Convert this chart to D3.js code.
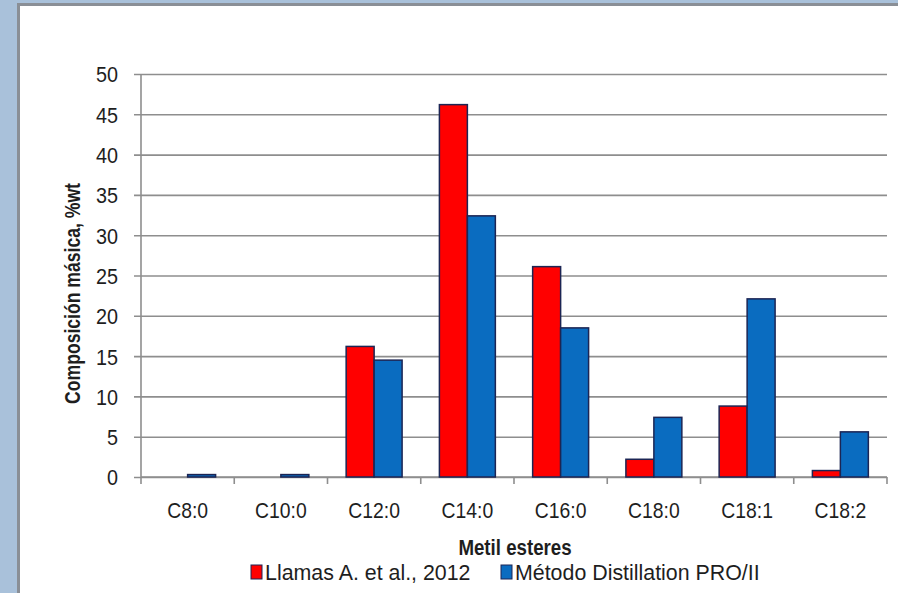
<!DOCTYPE html>
<html>
<head>
<meta charset="utf-8">
<script src="https://cdn.jsdelivr.net/npm/d3@7"></script>
<style>
  html, body { margin: 0; padding: 0; background: #a9c1da; }
  svg { display: block; font-family: "Liberation Sans", Arial, sans-serif; }
</style>
</head>
<body>
<svg id="chart" width="898" height="593"></svg>
<script>
// Fatty acid methyl ester composition (% wt)
const categories = ["C8:0", "C10:0", "C12:0", "C14:0", "C16:0", "C18:0", "C18:1", "C18:2"];
const llamas = [0, 0, 16.2, 46.2, 26.1, 2.2, 8.8, 0.8];
const distillation = [0.3, 0.3, 14.5, 32.4, 18.5, 7.4, 22.1, 5.6];
const seriesNames = ["Llamas A. et al., 2012", "Método Distillation PRO/II"];
const yTicks = [0, 5, 10, 15, 20, 25, 30, 35, 40, 45, 50];

const colors = ["#ff0000", "#0a6cc0"];
const W = 898, H = 593;
const svg = d3.select("#chart");

// panel frame
svg.append("rect").attr("x", 0).attr("y", 0).attr("width", W).attr("height", H).attr("fill", "#a9c1da");
svg.append("rect").attr("x", 17).attr("y", 3).attr("width", W - 17).attr("height", H - 3).attr("fill", "#8a8f96");
svg.append("rect").attr("x", 20).attr("y", 6).attr("width", W - 20).attr("height", H - 6).attr("fill", "#ffffff");

const plot = { left: 141, right: 887, top: 74, bottom: 477 };

const x = d3.scaleBand().domain(categories).range([plot.left, plot.right]).paddingInner(0.4).paddingOuter(0.2);
const x0 = d3.scaleBand().domain(categories).range([plot.left, plot.right]);
const xs = d3.scaleBand().domain([0, 1]).range([0, x.bandwidth()]);
const y = d3.scaleLinear().domain([0, 50]).range([plot.bottom, plot.top]);

// gridlines and y tick labels
const yAxis = d3.axisLeft(y).tickValues(yTicks).tickSize(-(plot.right - plot.left)).tickSizeOuter(0).tickPadding(22);
const gy = svg.append("g").attr("transform", `translate(${plot.left},0)`).call(yAxis);
gy.select(".domain").remove();
gy.selectAll(".tick line").attr("stroke", "#8e8e8e").attr("stroke-width", 1.6).attr("x1", -7);
gy.selectAll(".tick text")
  .attr("font-size", 22).attr("fill", "#1e1e1e").attr("font-family", "'Liberation Sans', Arial, sans-serif")
  .attr("dy", "0.36em")
  .attr("transform", "scale(0.9,1)")
  .attr("x", -23 / 0.9);

// vertical axis line
svg.append("line").attr("x1", plot.left).attr("x2", plot.left).attr("y1", plot.top).attr("y2", plot.bottom + 1)
  .attr("stroke", "#8e8e8e").attr("stroke-width", 1.6);

// x axis with tick marks at band boundaries
const xAxisG = svg.append("g").attr("transform", `translate(0,${plot.bottom})`);
xAxisG.append("line").attr("x1", plot.left).attr("x2", plot.right).attr("stroke", "#8e8e8e").attr("stroke-width", 1.6);
const bounds = categories.map(c => x0(c)).concat([plot.right]);
xAxisG.selectAll("line.tk").data(bounds).join("line").attr("class", "tk")
  .attr("x1", d => d).attr("x2", d => d).attr("y1", 0).attr("y2", 7)
  .attr("stroke", "#8e8e8e").attr("stroke-width", 1.6);
xAxisG.selectAll("text").data(categories).join("text")
  .attr("transform", d => `translate(${x0(d) + x0.bandwidth() / 2},41) scale(0.88,1)`)
  .attr("text-anchor", "middle").attr("font-size", 22).attr("fill", "#1e1e1e").text(d => d);

// bars
const series = [llamas, distillation];
series.forEach((vals, si) => {
  svg.append("g").selectAll("rect").data(categories).join("rect")
    .attr("x", (d, i) => x(d) + xs(si))
    .attr("width", xs.bandwidth())
    .attr("y", (d, i) => y(vals[i]))
    .attr("height", (d, i) => Math.max(0, y(0) - y(vals[i])))
    .attr("fill", colors[si])
    .attr("stroke", "#1c2554").attr("stroke-width", 1.5)
    .style("display", (d, i) => vals[i] > 0 ? null : "none");
});

// axis titles
svg.append("text")
  .attr("transform", `translate(80,${(plot.top + plot.bottom) / 2 + 18}) rotate(-90) scale(0.8,1)`)
  .attr("text-anchor", "middle").attr("font-size", 22).attr("font-weight", "bold").attr("fill", "#1e1e1e")
  .text("Composición másica, %wt");

svg.append("text")
  .attr("transform", `translate(${(plot.left + plot.right) / 2 + 1},555) scale(0.85,1)`)
  .attr("text-anchor", "middle").attr("font-size", 22).attr("font-weight", "bold").attr("fill", "#1e1e1e")
  .text("Metil esteres");

// legend
const legendItems = [{ x: 251 }, { x: 501 }];
const lg = svg.append("g");
seriesNames.forEach((name, i) => {
  const it = legendItems[i];
  lg.append("rect").attr("x", it.x).attr("y", 565).attr("width", 11).attr("height", 14)
    .attr("fill", colors[i]).attr("stroke", "#1c2554").attr("stroke-width", 1);
  lg.append("text").attr("transform", `translate(${it.x + 14},580) scale(0.93,1)`)
    .attr("font-size", 23).attr("fill", "#1e1e1e").text(name);
});
</script>
</body>
</html>
